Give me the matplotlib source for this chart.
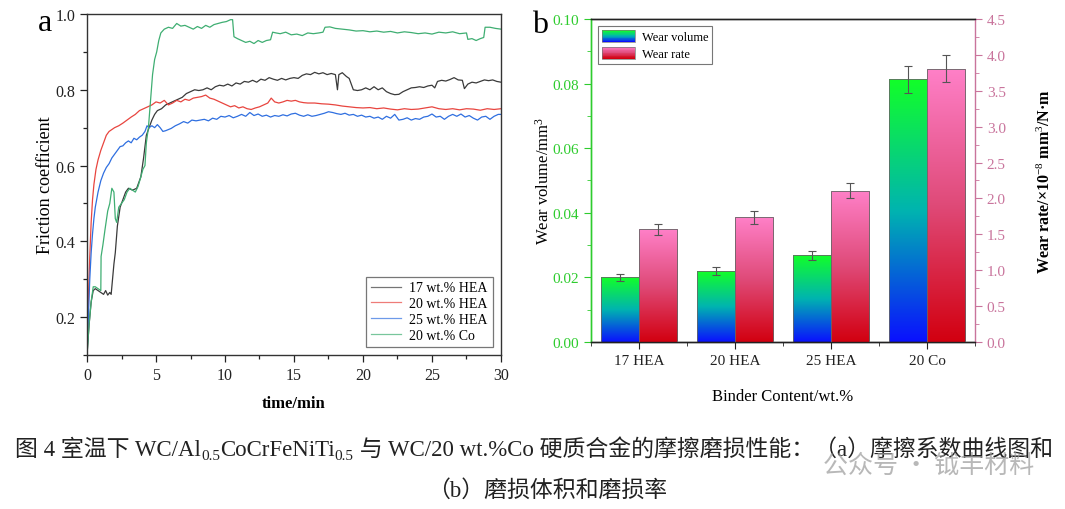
import numpy as np
import matplotlib
matplotlib.use("Agg")
import matplotlib.pyplot as plt
from matplotlib.colors import LinearSegmentedColormap
from matplotlib.patches import Rectangle
from matplotlib.legend_handler import HandlerBase
from matplotlib.ticker import MultipleLocator

plt.rcParams['font.family'] = ['Liberation Serif', 'Noto Sans CJK SC', 'DejaVu Sans']
plt.rcParams['mathtext.fontset'] = 'custom'
plt.rcParams['mathtext.rm'] = 'Liberation Serif'
plt.rcParams['mathtext.it'] = 'Liberation Serif:italic'
plt.rcParams['mathtext.bf'] = 'Liberation Serif:bold'

# ---- (a) friction coefficient curves (time/min, coefficient)
hea17_pts = [(0, 0.10), (0.15, 0.18), (0.3, 0.24), (0.45, 0.27), (0.6, 0.275), (0.8, 0.27), (1.0, 0.265),
             (1.2, 0.26), (1.35, 0.27), (1.5, 0.258), (1.65, 0.265), (1.75, 0.26), (1.85, 0.3), (1.95, 0.34),
             (2.05, 0.37), (2.2, 0.44), (2.4, 0.49), (2.6, 0.51), (2.8, 0.53), (3.0, 0.54), (3.3, 0.535),
             (3.6, 0.54), (3.9, 0.57), (4.1, 0.62), (4.3, 0.68), (4.5, 0.70), (4.7, 0.72), (4.9, 0.735),
             (5.1, 0.745), (5.4, 0.75), (5.7, 0.76), (6.0, 0.765), (6.3, 0.77), (6.6, 0.775), (6.9, 0.78),
             (7.2, 0.79), (7.5, 0.795), (7.8, 0.80), (8.1, 0.798), (8.4, 0.80), (8.7, 0.805), (9.0, 0.80),
             (9.3, 0.808), (9.6, 0.812), (9.9, 0.81), (10.2, 0.815), (10.5, 0.81), (10.8, 0.818), (11.1, 0.815),
             (11.4, 0.822), (11.7, 0.82), (12.0, 0.825), (12.3, 0.82), (12.6, 0.828), (12.9, 0.825),
             (13.2, 0.832), (13.5, 0.828), (13.8, 0.825), (14.1, 0.83), (14.4, 0.826), (14.7, 0.83),
             (15.0, 0.832), (15.3, 0.83), (15.6, 0.838), (15.9, 0.842), (16.2, 0.84), (16.5, 0.846),
             (16.8, 0.842), (17.1, 0.845), (17.4, 0.84), (17.7, 0.843), (18.0, 0.84), (18.15, 0.80),
             (18.25, 0.84), (18.5, 0.845), (18.8, 0.835), (19.0, 0.83), (19.3, 0.80), (19.6, 0.798),
             (19.9, 0.80), (20.2, 0.805), (20.5, 0.80), (20.8, 0.808), (21.1, 0.80), (21.4, 0.805),
             (21.7, 0.795), (22.0, 0.79), (22.3, 0.787), (22.6, 0.788), (22.9, 0.795), (23.2, 0.80),
             (23.5, 0.805), (23.8, 0.806), (24.1, 0.808), (24.4, 0.806), (24.7, 0.81), (25.0, 0.812),
             (25.2, 0.805), (25.4, 0.822), (25.7, 0.825), (26.0, 0.823), (26.3, 0.827), (26.6, 0.832),
             (26.9, 0.826), (27.2, 0.825), (27.35, 0.803), (27.6, 0.815), (27.9, 0.82), (28.2, 0.818),
             (28.5, 0.822), (28.8, 0.826), (29.1, 0.824), (29.4, 0.826), (29.7, 0.822), (30.0, 0.82)]

hea20_pts = [(0, 0.10), (0.1, 0.25), (0.2, 0.36), (0.3, 0.45), (0.4, 0.51), (0.5, 0.55), (0.65, 0.59),
             (0.8, 0.615), (1.0, 0.64), (1.2, 0.66), (1.4, 0.68), (1.6, 0.69), (1.8, 0.695), (2.0, 0.70),
             (2.3, 0.705), (2.6, 0.712), (2.9, 0.72), (3.2, 0.728), (3.5, 0.735), (3.8, 0.745), (4.1, 0.75),
             (4.4, 0.755), (4.7, 0.76), (5.0, 0.768), (5.3, 0.765), (5.6, 0.772), (5.9, 0.76), (6.2, 0.765),
             (6.5, 0.772), (6.8, 0.768), (7.1, 0.775), (7.4, 0.772), (7.7, 0.778), (8.0, 0.78), (8.3, 0.782),
             (8.6, 0.786), (8.9, 0.778), (9.2, 0.775), (9.5, 0.77), (9.8, 0.765), (10.1, 0.76), (10.4, 0.755),
             (10.7, 0.758), (11.0, 0.752), (11.3, 0.755), (11.6, 0.75), (11.9, 0.748), (12.2, 0.752),
             (12.5, 0.755), (12.8, 0.76), (13.1, 0.765), (13.35, 0.778), (13.6, 0.768), (13.9, 0.765),
             (14.2, 0.768), (14.5, 0.772), (14.8, 0.77), (15.1, 0.772), (15.4, 0.768), (15.7, 0.766),
             (16.0, 0.765), (16.5, 0.765), (17.0, 0.763), (17.5, 0.762), (18.0, 0.76), (18.5, 0.757),
             (19.0, 0.755), (19.5, 0.753), (20.0, 0.752), (20.5, 0.753), (21.0, 0.75), (21.5, 0.752),
             (22.0, 0.749), (22.5, 0.747), (23.0, 0.75), (23.5, 0.748), (24.0, 0.749), (24.5, 0.752),
             (25.0, 0.755), (25.5, 0.75), (26.0, 0.748), (26.5, 0.75), (27.0, 0.747), (27.5, 0.75),
             (28.0, 0.749), (28.5, 0.746), (29.0, 0.75), (29.5, 0.748), (30.0, 0.75)]

hea25_pts = [(0, 0.10), (0.1, 0.2), (0.2, 0.3), (0.3, 0.37), (0.4, 0.42), (0.5, 0.46), (0.6, 0.49),
             (0.8, 0.53), (1.0, 0.56), (1.2, 0.58), (1.4, 0.595), (1.6, 0.605), (1.8, 0.62), (2.0, 0.63),
             (2.2, 0.64), (2.4, 0.65), (2.6, 0.652), (2.8, 0.66), (3.0, 0.665), (3.2, 0.66), (3.4, 0.672),
             (3.6, 0.668), (3.8, 0.675), (4.0, 0.68), (4.2, 0.69), (4.35, 0.705), (4.5, 0.70), (4.7, 0.705),
             (4.9, 0.70), (5.1, 0.708), (5.3, 0.70), (5.5, 0.69), (5.7, 0.692), (5.9, 0.695), (6.1, 0.698),
             (6.4, 0.705), (6.7, 0.71), (7.0, 0.716), (7.3, 0.712), (7.6, 0.72), (7.9, 0.718), (8.2, 0.72),
             (8.5, 0.722), (8.8, 0.718), (9.1, 0.725), (9.4, 0.722), (9.7, 0.73), (10.0, 0.728), (10.3, 0.732),
             (10.6, 0.726), (10.9, 0.73), (11.2, 0.735), (11.5, 0.73), (11.8, 0.74), (12.1, 0.732),
             (12.4, 0.736), (12.7, 0.73), (13.0, 0.733), (13.3, 0.728), (13.6, 0.732), (13.9, 0.73),
             (14.2, 0.734), (14.5, 0.731), (14.8, 0.736), (15.1, 0.738), (15.4, 0.733), (15.7, 0.73),
             (16.0, 0.734), (16.3, 0.73), (16.6, 0.732), (16.9, 0.735), (17.2, 0.738), (17.5, 0.742),
             (17.8, 0.74), (18.1, 0.737), (18.4, 0.735), (18.7, 0.738), (19.0, 0.733), (19.3, 0.735),
             (19.6, 0.73), (19.9, 0.733), (20.2, 0.728), (20.5, 0.73), (20.8, 0.725), (21.1, 0.728),
             (21.4, 0.722), (21.7, 0.73), (22.0, 0.725), (22.3, 0.735), (22.6, 0.72), (22.9, 0.722),
             (23.2, 0.726), (23.5, 0.72), (23.8, 0.724), (24.1, 0.722), (24.4, 0.728), (24.7, 0.73),
             (25.0, 0.736), (25.3, 0.728), (25.6, 0.73), (25.9, 0.722), (26.2, 0.73), (26.5, 0.735),
             (26.8, 0.73), (27.1, 0.736), (27.4, 0.728), (27.7, 0.732), (28.0, 0.725), (28.3, 0.72),
             (28.6, 0.728), (28.9, 0.73), (29.2, 0.722), (29.5, 0.73), (29.8, 0.735), (30.0, 0.735)]

co20_pts = [(0, 0.10), (0.15, 0.18), (0.3, 0.24), (0.45, 0.28), (0.6, 0.28), (0.8, 0.275), (1.0, 0.27),
            (1.02, 0.36), (1.15, 0.39), (1.3, 0.43), (1.5, 0.48), (1.65, 0.50), (1.8, 0.54), (1.95, 0.53),
            (2.05, 0.46), (2.15, 0.45), (2.3, 0.49), (2.5, 0.50), (2.7, 0.51), (2.9, 0.53), (3.1, 0.54),
            (3.3, 0.535), (3.5, 0.53), (3.7, 0.545), (3.9, 0.57), (4.05, 0.59), (4.2, 0.60), (4.3, 0.66),
            (4.45, 0.70), (4.6, 0.77), (4.75, 0.84), (4.9, 0.88), (5.05, 0.90), (5.2, 0.93), (5.35, 0.95),
            (5.6, 0.96), (5.9, 0.965), (6.2, 0.962), (6.5, 0.975), (6.8, 0.968), (7.1, 0.97), (7.4, 0.965),
            (7.7, 0.96), (8.0, 0.967), (8.3, 0.962), (8.6, 0.97), (8.9, 0.965), (9.2, 0.972), (9.5, 0.975),
            (9.8, 0.978), (10.1, 0.98), (10.4, 0.985), (10.55, 0.985), (10.65, 0.94), (10.9, 0.935),
            (11.2, 0.93), (11.5, 0.925), (11.8, 0.928), (12.1, 0.922), (12.4, 0.93), (12.7, 0.925),
            (13.0, 0.93), (13.3, 0.932), (13.45, 0.952), (13.7, 0.95), (14.0, 0.948), (14.4, 0.952),
            (14.8, 0.945), (15.2, 0.947), (15.6, 0.943), (16.0, 0.95), (16.4, 0.948), (16.8, 0.95),
            (17.1, 0.952), (17.25, 0.965), (17.6, 0.966), (18.0, 0.962), (18.5, 0.96), (19.0, 0.958),
            (19.5, 0.955), (20.0, 0.956), (20.5, 0.953), (21.0, 0.955), (21.5, 0.952), (22.0, 0.954),
            (22.5, 0.95), (23.0, 0.953), (23.5, 0.951), (24.0, 0.948), (24.5, 0.95), (25.0, 0.947),
            (25.5, 0.952), (26.0, 0.95), (26.5, 0.953), (27.0, 0.948), (27.5, 0.95), (27.6, 0.933),
            (27.9, 0.935), (28.2, 0.93), (28.5, 0.935), (28.75, 0.938), (28.85, 0.965), (29.2, 0.965),
            (29.6, 0.962), (30.0, 0.96)]

curve_labels = ['17 wt.% HEA', '20 wt.% HEA', '25 wt.% HEA', '20 wt.% Co']
curve_colors = ['#3a3a3a', '#e8453f', '#2f6fe0', '#3fae72']

# ---- (b) wear volume / wear rate
binders = ['17 HEA', '20 HEA', '25 HEA', '20 Co']
wear_volume = [0.0200, 0.0219, 0.0268, 0.0813]
wear_volume_err = [0.0010, 0.0012, 0.0014, 0.0042]
wear_rate = [1.57, 1.74, 2.11, 3.81]
wear_rate_err = [0.08, 0.09, 0.11, 0.19]

green_c = '#2ecc2e'
pink_c = '#c9749c'

fig = plt.figure(figsize=(10.65, 5.1), dpi=100)

# ---------------- panel a
ax = fig.add_axes([0.0817, 0.302, 0.3887, 0.6686])
for pts, lab, col in zip([hea17_pts, hea20_pts, hea25_pts, co20_pts], curve_labels, curve_colors):
    t, v = zip(*pts)
    ax.plot(t, v, color=col, lw=0.9, label=lab)
ax.set_xlim(0, 30)
ax.set_ylim(0.1, 1.0)
ax.xaxis.set_major_locator(MultipleLocator(5))
ax.xaxis.set_minor_locator(MultipleLocator(2.5))
ax.yaxis.set_major_locator(MultipleLocator(0.2))
ax.yaxis.set_minor_locator(MultipleLocator(0.1))
ax.set_yticks([0.2, 0.4, 0.6, 0.8, 1.0])
ax.tick_params(which='both', direction='out', labelsize=11.5, colors='#222222', width=0.9)
ax.tick_params(which='major', length=5)
ax.tick_params(which='minor', length=3)
for s in ax.spines.values():
    s.set_color('#333333')
    s.set_linewidth(1.0)
ax.set_xlabel('time/min', fontsize=12, fontweight='bold', labelpad=9)
ax.set_ylabel('Friction coefficient', fontsize=13, labelpad=1)
leg = ax.legend(loc='lower right', fontsize=10, frameon=True, fancybox=False, handlelength=2.2,
                borderpad=0.35, labelspacing=0.2, handletextpad=0.6, borderaxespad=0.6)
leg.get_frame().set_edgecolor('#555555')
leg.get_frame().set_linewidth(0.9)
for ln in leg.get_lines():
    ln.set_alpha(0.7)
fig.text(0.036, 0.94, 'a', fontsize=23)

# ---------------- panel b
cm_vol = LinearSegmentedColormap.from_list('vol', ['#0a10ff', '#00b4b0', '#12ff28'])
cm_rate = LinearSegmentedColormap.from_list('rate', ['#d20010', '#df4a78', '#ff80c8'])


class GradHandler(HandlerBase):
    def __init__(self, cmap):
        super().__init__()
        self.cmap = cmap

    def create_artists(self, legend, orig_handle, xdescent, ydescent, width, height, fontsize, trans):
        n = 16
        arts = []
        for i in range(n):
            arts.append(Rectangle((-xdescent, -ydescent + height * i / n), width, height / n,
                                  facecolor=self.cmap(i / (n - 1)), edgecolor='none', transform=trans))
        arts.append(Rectangle((-xdescent, -ydescent), width, height, facecolor='none',
                              edgecolor='#777777', lw=0.5, transform=trans))
        return arts


bx = fig.add_axes([0.5549, 0.3275, 0.3606, 0.6333])
bx2 = bx.twinx()
x = np.arange(len(binders))
w = 0.4
grad = np.linspace(0, 1, 256).reshape(-1, 1)

bars1 = bx.bar(x - w / 2, wear_volume, w, facecolor='none', edgecolor='#666666', lw=0.6, zorder=3)
bars2 = bx2.bar(x + w / 2, wear_rate, w, facecolor='none', edgecolor='#666666', lw=0.6, zorder=3)
for bars, axx, cm in [(bars1, bx, cm_vol), (bars2, bx2, cm_rate)]:
    for b in bars:
        x0, y0 = b.get_x(), b.get_y()
        im = axx.imshow(grad, cmap=cm, origin='lower', aspect='auto', zorder=2,
                        extent=[x0, x0 + b.get_width(), y0, y0 + b.get_height()])
        im.set_clip_path(b)
bx.errorbar(x - w / 2, wear_volume, yerr=wear_volume_err, fmt='none', ecolor='#555555',
            elinewidth=0.8, capsize=3, capthick=0.8, zorder=4)
bx2.errorbar(x + w / 2, wear_rate, yerr=wear_rate_err, fmt='none', ecolor='#555555',
             elinewidth=0.8, capsize=3, capthick=0.8, zorder=4)

bx.set_xlim(-0.5, 3.5)
bx.set_ylim(0, 0.10)
bx2.set_ylim(0, 4.5)
bx.set_xticks(x)
bx.set_xticklabels(binders)
bx.xaxis.set_minor_locator(MultipleLocator(0.5))
bx.yaxis.set_major_locator(MultipleLocator(0.02))
bx.yaxis.set_minor_locator(MultipleLocator(0.01))
bx.set_yticklabels(['%.2f' % v for v in bx.get_yticks()])
bx2.yaxis.set_major_locator(MultipleLocator(0.5))
bx2.yaxis.set_minor_locator(MultipleLocator(0.25))
bx2.set_yticklabels(['%.1f' % v for v in bx2.get_yticks()])

bx.tick_params(axis='x', which='both', direction='out', labelsize=11, colors='#222222')
bx.tick_params(axis='x', which='major', length=5)
bx.tick_params(axis='x', which='minor', length=3)
bx.tick_params(axis='y', which='both', direction='out', colors=green_c, labelsize=11)
bx.tick_params(axis='y', which='major', length=5)
bx.tick_params(axis='y', which='minor', length=3)
bx2.tick_params(axis='y', which='both', direction='out', colors=pink_c, labelsize=11)
bx2.tick_params(axis='y', which='major', length=5)
bx2.tick_params(axis='y', which='minor', length=3)
bx.spines['left'].set_color(green_c)
bx2.spines['left'].set_color(green_c)
bx2.spines['right'].set_color(pink_c)
bx.spines['right'].set_visible(False)
for s in ['top', 'bottom']:
    bx.spines[s].set_color('#222222')
    bx2.spines[s].set_color('#222222')
for a in (bx, bx2):
    for s in a.spines.values():
        s.set_linewidth(1.0)

bx.set_xlabel('Binder Content/wt.%', fontsize=12, labelpad=15)
bx.set_ylabel('Wear volume/mm$^3$', fontsize=12, labelpad=0)
bx2.set_ylabel('Wear rate/×10$^{-8}$ mm$^3$/N·m', fontsize=11.5, fontweight='bold', labelpad=22)

h1 = Rectangle((0, 0), 1, 1)
h2 = Rectangle((0, 0), 1, 1)
leg2 = bx2.legend([h1, h2], ['Wear volume', 'Wear rate'], loc='upper left', fontsize=9,
                  handler_map={h1: GradHandler(cm_vol), h2: GradHandler(cm_rate)},
                  frameon=True, fancybox=False, handlelength=2.6, handleheight=1.1,
                  borderpad=0.3, labelspacing=0.25, handletextpad=0.6, borderaxespad=0.6)
leg2.get_frame().set_edgecolor('#555555')
leg2.get_frame().set_linewidth(0.8)
fig.text(0.500, 0.935, 'b', fontsize=23)

# ---------------- caption, built piece by piece so the subscripts sit lower
fig.canvas.draw()
renderer = fig.canvas.get_renderer()
W = fig.bbox.width
pieces = [('图 4 室温下 WC/Al', 0), ('0.5', 1), ('CoCrFeNiTi', 0), ('0.5', 1),
          (' 与 WC/20 wt.%Co 硬质合金的摩擦磨损性能：（a）摩擦系数曲线图和', 0)]
xpos = 15 / W
ybase = 1 - 456 / 510
for s, sub in pieces:
    t = fig.text(xpos, ybase - (0.008 if sub else 0), s, fontsize=11 if sub else 16.5,
                 va='baseline', ha='left', color='#222222')
    xpos = t.get_window_extent(renderer).x1 / W
fig.text(0.514, 1 - 497 / 510, '（b）磨损体积和磨损率', fontsize=16.5, va='baseline', ha='center',
         color='#222222')
# faint account watermark lying over the caption, as in the source image
fig.text(0.773, 1 - 473 / 510, '公众号 · 钺丰材料', fontsize=18, color='#9a9a9a', alpha=0.7,
         family=['Noto Sans CJK SC'], va='baseline')

fig.savefig('out.png', dpi=100)
